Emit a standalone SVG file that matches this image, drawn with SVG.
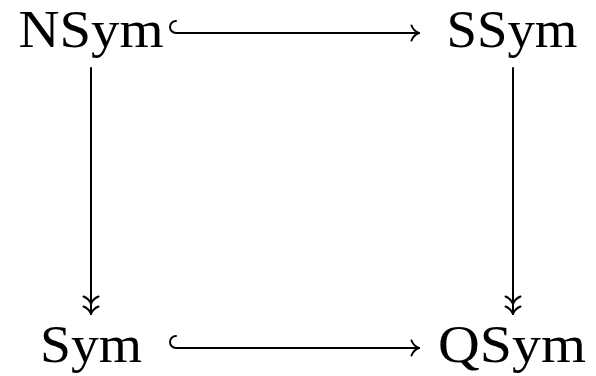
<svg xmlns="http://www.w3.org/2000/svg" width="596" height="376" viewBox="0 0 596 376">
  <style>
    .lbl { font-family: "Liberation Serif", "DejaVu Serif", serif; font-size: 52px; fill: #000; text-anchor: middle; }
    .edge { fill: none; stroke: #000; stroke-width: 2; stroke-linecap: round; }
    .head { fill: none; stroke: #000; stroke-width: 2; stroke-linecap: round; stroke-linejoin: round; }
  </style>
  <defs>
    <marker id="tip" markerUnits="userSpaceOnUse" viewBox="-10 -10 12 20" refX="0" refY="0" markerWidth="12" markerHeight="20" orient="auto" overflow="visible">
      <path class="head" d="M -7.5,-7.5 C -6,-3.5 -2.5,-0.9 0,0 C -2.5,0.9 -6,3.5 -7.5,7.5"/>
    </marker>
    <marker id="dtip" markerUnits="userSpaceOnUse" viewBox="-20 -10 22 20" refX="0" refY="0" markerWidth="22" markerHeight="20" orient="auto" overflow="visible">
      <path class="head" d="M -7.5,-7.5 C -6,-3.5 -2.5,-0.9 0,0 C -2.5,0.9 -6,3.5 -7.5,7.5"/>
      <path class="head" d="M -17.5,-7.5 C -16,-3.5 -12.5,-0.9 -10,0 C -12.5,0.9 -16,3.5 -17.5,7.5"/>
    </marker>
  </defs>

  <g id="connectors">
    <path id="e-nsym-ssym" class="edge" d="M 176,21 A 6,6 0 0 0 176,33 H 419" marker-end="url(#tip)"/>
    <path id="e-sym-qsym" class="edge" d="M 176,336 A 6,6 0 0 0 176,348 H 419" marker-end="url(#tip)"/>
    <path id="e-nsym-sym" class="edge" d="M 91,68 V 314" marker-end="url(#dtip)"/>
    <path id="e-ssym-qsym" class="edge" d="M 513,68 V 314" marker-end="url(#dtip)"/>
  </g>

  <g id="n-nsym"><text class="lbl" x="91" y="47" textLength="145" lengthAdjust="spacingAndGlyphs">NSym</text></g>
  <g id="n-ssym"><text class="lbl" x="512" y="47" textLength="131" lengthAdjust="spacingAndGlyphs">SSym</text></g>
  <g id="n-sym"><text class="lbl" x="91" y="362" textLength="102" lengthAdjust="spacingAndGlyphs">Sym</text></g>
  <g id="n-qsym"><text class="lbl" x="512" y="362" textLength="148" lengthAdjust="spacingAndGlyphs">QSym</text></g>
</svg>
